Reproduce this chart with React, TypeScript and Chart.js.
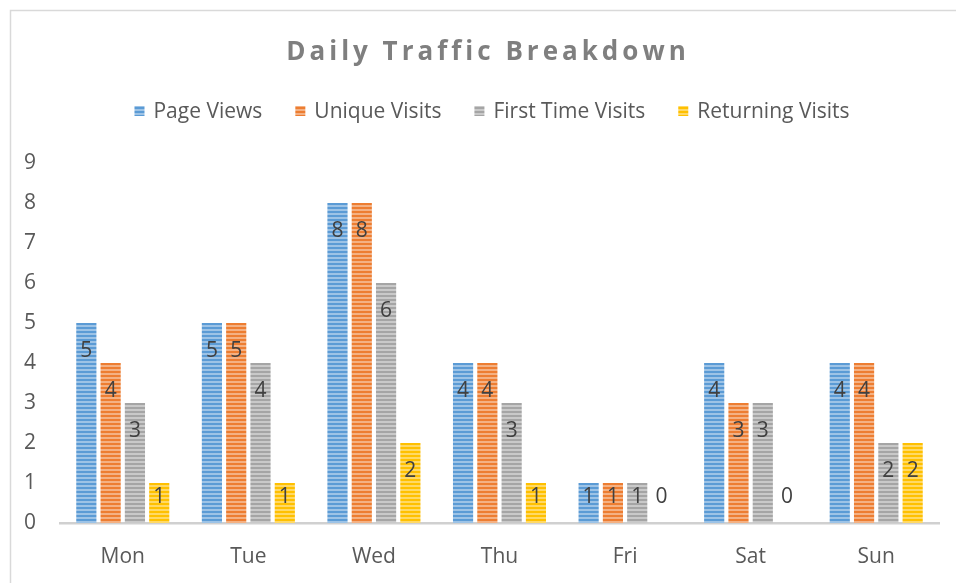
import React, { useEffect, useRef } from "react";
import { Chart, registerables } from "chart.js";

Chart.register(...registerables);

const categories = ["Mon", "Tue", "Wed", "Thu", "Fri", "Sat", "Sun"];
const pageViews = [5, 5, 8, 4, 1, 4, 4];
const uniqueVisits = [4, 5, 8, 4, 1, 3, 4];
const firstTimeVisits = [3, 4, 6, 3, 1, 3, 2];
const returningVisits = [1, 1, 2, 1, 0, 0, 2];
const seriesNames = ["Page Views", "Unique Visits", "First Time Visits", "Returning Visits"];
const seriesColors = ["#5B9BD5", "#ED7D31", "#A5A5A5", "#FFC000"];
const seriesLight = ["#9DC3E6", "#F4B183", "#C9C9C9", "#FFD966"];
const titleText = "Daily Traffic Breakdown";

const FONT = "'Open Sans', 'Noto Sans', sans-serif";

export default function App() {
  const ref = useRef<HTMLCanvasElement | null>(null);

  useEffect(() => {
    document.body.style.margin = "0";
    const canvas = ref.current;
    if (!canvas) return;
    const ctx = canvas.getContext("2d");
    if (!ctx) return;
    const patterns = seriesColors.map((c, i) => {
      const pc = document.createElement("canvas");
      pc.width = 4;
      pc.height = 4;
      const px = pc.getContext("2d")!;
      px.fillStyle = c;
      px.fillRect(0, 0, 4, 4);
      px.fillStyle = seriesLight[i];
      px.fillRect(0, 1, 4, 2);
      return ctx.createPattern(pc, "repeat") || c;
    });
    const values = [pageViews, uniqueVisits, firstTimeVisits, returningVisits];

    const decor = {
      id: "decor",
      beforeDraw(chart: any) {
        const c = chart.ctx;
        c.save();
        c.fillStyle = "#ffffff";
        c.fillRect(0, 0, chart.width, chart.height);
        c.strokeStyle = "#D9D9D9";
        c.lineWidth = 1.5;
        c.strokeRect(10.5, 10.5, chart.width + 20, chart.height + 20);
        c.restore();
      },
      afterDraw(chart: any) {
        const c = chart.ctx;
        c.save();
        // title
        c.font = `bold 26px ${FONT}`;
        (c as any).letterSpacing = "4px";
        c.fillStyle = "#7F7F7F";
        c.textBaseline = "middle";
        c.textAlign = "left";
        const tw = c.measureText(titleText).width;
        c.fillText(titleText, 488 - tw / 2, 53);
        (c as any).letterSpacing = "0px";
        // legend
        c.font = `21px ${FONT}`;
        const box = 10;
        const gap = 9;
        const itemGap = 33;
        const widths = seriesNames.map((n) => c.measureText(n).width);
        const total = widths.reduce((a, b) => a + b + box + gap, 0) + itemGap * (seriesNames.length - 1);
        let x = 492 - total / 2;
        const y = 111;
        seriesNames.forEach((n, i) => {
          c.fillStyle = patterns[i] as any;
          c.fillRect(x, y - box / 2, box, box);
          c.fillStyle = "#595959";
          c.fillText(n, x + box + gap, y + 1);
          x += box + gap + widths[i] + itemGap;
        });
        c.restore();
      },
      afterDatasetsDraw(chart: any) {
        const c = chart.ctx;
        c.save();
        c.font = `21px ${FONT}`;
        c.fillStyle = "#404040";
        c.textAlign = "center";
        c.textBaseline = "middle";
        chart.data.datasets.forEach((ds: any, di: number) => {
          const meta = chart.getDatasetMeta(di);
          meta.data.forEach((el: any, i: number) => {
            const ty = Math.min(el.y + 28, el.base - 26);
            c.fillText(String(ds.data[i]), el.x, ty);
          });
        });
        c.restore();
      },
    };

    const chart = new Chart(ctx, {
      type: "bar",
      data: {
        labels: categories,
        datasets: values.map((v, i) => ({
          label: seriesNames[i],
          data: v,
          backgroundColor: patterns[i] as any,
          borderWidth: 0,
          categoryPercentage: 0.774,
          barPercentage: 0.83,
        })),
      },
      options: {
        animation: false,
        responsive: false,
        maintainAspectRatio: false,
        layout: { padding: { top: 163, left: 10, right: 17, bottom: 0 } },
        plugins: {
          legend: { display: false },
          title: { display: false },
          tooltip: { enabled: false },
        },
        scales: {
          x: {
            grid: { display: false, drawTicks: false },
            border: { display: true, color: "#D0D0D0", width: 2.5 },
            ticks: { color: "#595959", font: { family: FONT, size: 21 }, padding: 21 },
            afterFit: (s: any) => {
              s.height = 60;
            },
          },
          y: {
            min: 0,
            max: 9,
            grid: { display: false, drawTicks: false },
            border: { display: false },
            ticks: { stepSize: 1, color: "#595959", font: { family: FONT, size: 21 }, padding: 24 },
            afterFit: (s: any) => {
              s.width = 50;
            },
          },
        },
      },
      plugins: [decor],
    });
    return () => chart.destroy();
  }, []);

  return (
    <div style={{ position: "fixed", left: 0, top: 0, width: 956, height: 583 }}>
      <canvas ref={ref} width={956} height={583} style={{ display: "block" }} />
    </div>
  );
}
